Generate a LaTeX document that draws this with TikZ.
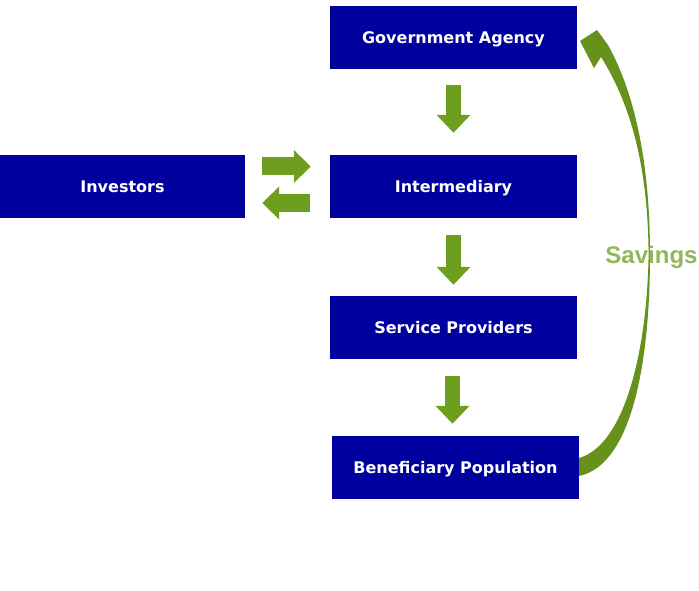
\documentclass[tikz,border=0pt]{standalone}
\usepackage{fontspec}
\setmainfont{DejaVu Sans}
\newfontfamily\savfont{Liberation Sans}
\usetikzlibrary{arrows.meta}
\definecolor{boxblue}{RGB}{0,0,158}
\definecolor{arrgreen}{RGB}{110,158,30}
\definecolor{savgreen}{RGB}{146,182,89}
\begin{document}
\begin{tikzpicture}[x=1pt,y=-1pt,
  box/.style={fill=boxblue, draw=none, minimum width=247pt, minimum height=63pt, inner sep=0pt,
    text height=14pt, text depth=2.4pt,
    text=white, font=\fontsize{16}{19}\selectfont\bfseries},
  vflow/.style={draw=arrgreen, line width=15pt, -{Triangle[length=18pt,width=33pt]}},
  hflow/.style={draw=arrgreen, line width=18pt, -{Triangle[length=17pt,width=32pt]}}]
\useasboundingbox (0,0) rectangle (699,591);
\node[box] (gov) at (453.5,37.5) {Government Agency};
\node[box] (int) at (453.5,186.5) {Intermediary};
\node[box, minimum width=245pt] (inv) at (122.5,186.5) {Investors};
\node[box] (sp) at (453.5,327.5) {Service Providers};
\node[box] (ben) at (455.5,467.5) {Beneficiary Population};
\draw[vflow, shorten <=16pt, shorten >=22pt] (gov.south) -- (int.north);
\draw[vflow, shorten <=17pt, shorten >=11pt] (int.south) -- (sp.north);
\draw[vflow, shorten <=17pt, shorten >=12pt] ([xshift=-1pt]sp.south) -- ([xshift=-3pt]ben.north);
\draw[hflow, shorten <=17pt, shorten >=19pt] ([yshift=20pt]inv.east) -- ([yshift=20pt]int.west);
\draw[hflow, shorten <=20pt, shorten >=17pt] ([yshift=-16.5pt]int.west) -- ([yshift=-16.5pt]inv.east);
% Savings curved arrow
\fill[arrgreen!92!black] (579,458) .. controls (625,445) and (647,350) .. (648.6,255)
  .. controls (648,160) and (628,100) .. (601,57)
  -- (594,68) -- (580,41) -- (597,30) -- (608,45)
  .. controls (634,92) and (650,160) .. (650,255)
  .. controls (650,362) and (632,465) .. (579,476) -- cycle;
\node[text=savgreen, font=\savfont\fontsize{24}{28}\selectfont\bfseries, inner sep=0pt] (sav) at (651.5,257) {Savings};
\end{tikzpicture}
\end{document}
